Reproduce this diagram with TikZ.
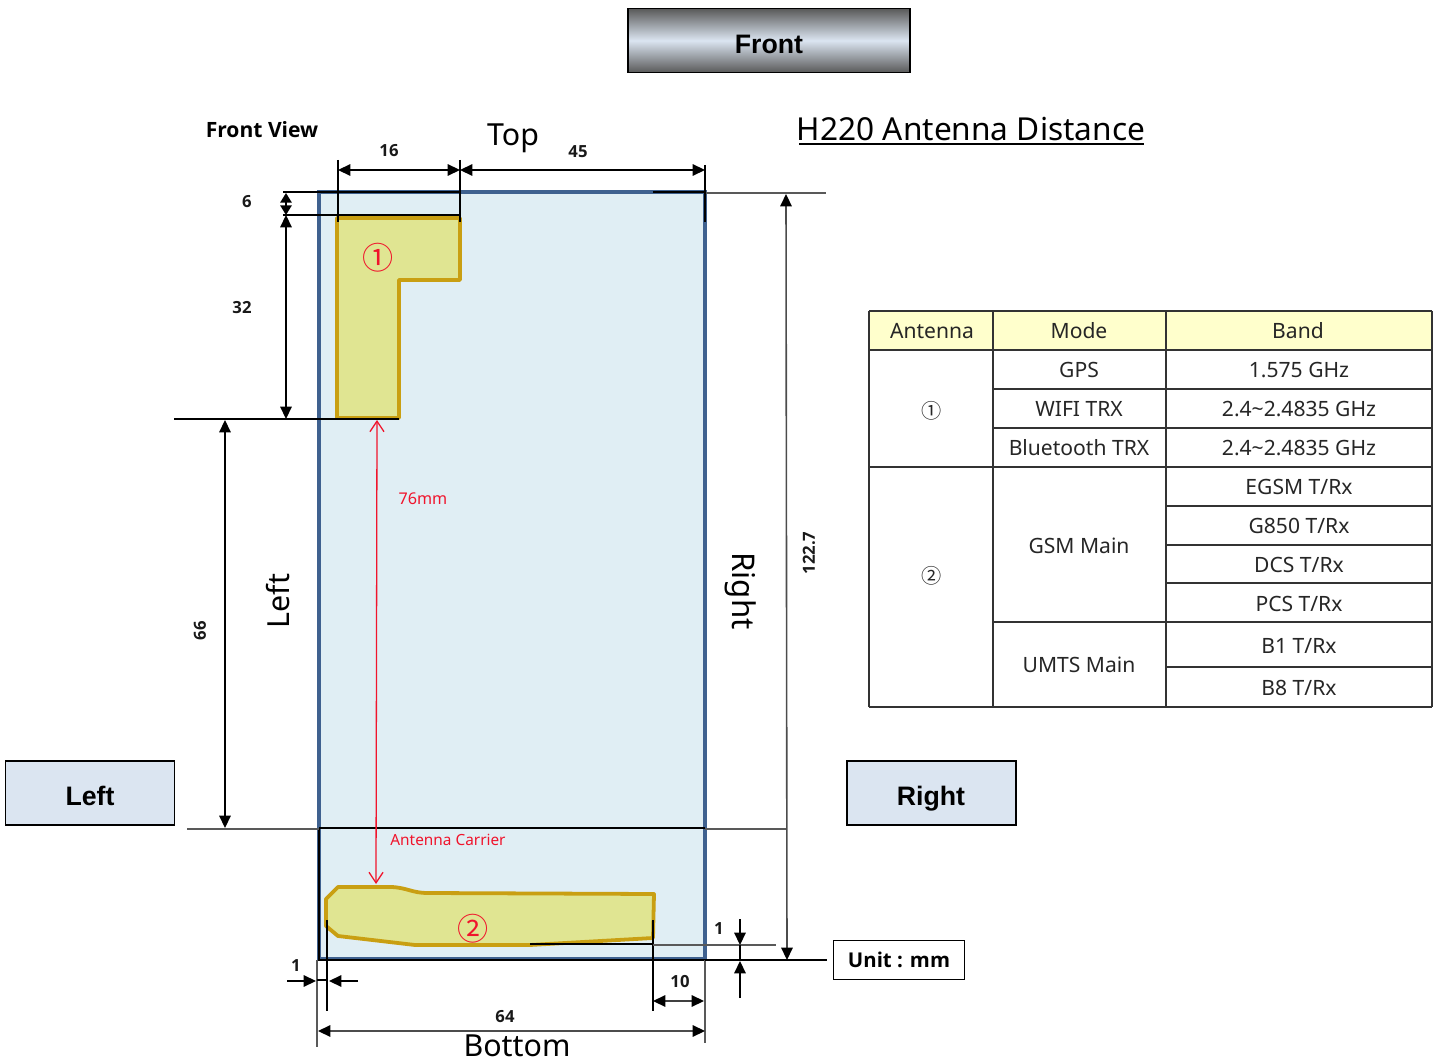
\documentclass[tikz,border=0pt]{standalone}
\usepackage{fontspec}
\setmainfont{Noto Sans}
\newfontfamily\arialf{Liberation Sans}
\newfontfamily\boldf{Open Sans}
\newfontfamily\circf{Noto Sans CJK SC}
\usetikzlibrary{arrows.meta}
\definecolor{bodyblue}{HTML}{E0EEF4}
\definecolor{edgeblue}{HTML}{3F618F}
\definecolor{antfill}{HTML}{E0E592}
\definecolor{antedge}{HTML}{C99F12}
\definecolor{headyellow}{HTML}{FFFFCC}
\definecolor{panel}{HTML}{DBE5F1}
\definecolor{redtxt}{HTML}{F0142C}
\tikzset{
  x=0.02cm, y=-0.02cm,
  px/.style={line width=#1*0.5669pt},
  dim/.style={draw=black, px=1.6, {Triangle[length=7pt,width=6.5pt]}-{Triangle[length=7pt,width=6.5pt]}},
  oneway/.style={draw=black, px=1.6, -{Triangle[length=7pt,width=6.5pt]}},
  ext/.style={draw=black, px=1.2},
  extg/.style={draw=black!65, px=1.6},
  redarrow/.style={draw=redtxt, px=1.3, {Straight Barb[length=6pt,width=8pt]}-{Straight Barb[length=6pt,width=8pt]}},
  ant/.style={draw=antedge, fill=antfill, px=3.8, line join=round},
  label/.style={inner sep=0pt, font=\boldf\fontsize{9.5pt}{11pt}\selectfont\bfseries, text=black!90},
  btn/.style={draw=black, px=2, fill=panel, inner sep=0pt, text height=14.4pt, text depth=0pt, font=\arialf\bfseries\fontsize{15.2pt}{18pt}\selectfont},
  big/.style={inner sep=0pt, font=\fontsize{17.3pt}{20pt}\selectfont},
  redlab/.style={inner sep=0pt, text=redtxt},
  cell/.style={inner sep=0pt, font=\fontsize{12pt}{14pt}\selectfont, text=black!85},
  grid/.style={draw=black!80, px=1.4},
}
\begin{document}
\begin{tikzpicture}
\useasboundingbox (0,0) rectangle (1441,1064);

% buttons
\node[btn, minimum width=282*0.02cm, minimum height=64*0.02cm, top color=black!65, bottom color=black!65, middle color=panel] (front) at (769,40.5) {Front};
\node[btn, minimum width=169*0.02cm, minimum height=64*0.02cm] (leftbtn) at (90,793) {Left};
\node[btn, minimum width=169*0.02cm, minimum height=64*0.02cm] (rightbtn) at (931,793) {Right};

% titles
\node[inner sep=0pt, font=\boldf\fontsize{12pt}{14pt}\selectfont\bfseries] (fv) at (262,130) {Front View};
\node[big] (top) at (513,138) {Top};
\node[big] (bottom) at (517,1046) {Bottom};
\node[big, rotate=90] (leftl) at (278,601) {Left};
\node[big, font=\fontsize{17.8pt}{20pt}\selectfont, rotate=-90] (rightl) at (741,591) {Right};
\node[inner sep=0pt, font=\fontsize{18pt}{21pt}\selectfont] (title) at (971,129) {H220 Antenna Distance};
\draw[black, px=1.8] (799,144) -- (1144,144);

% phone body
\draw[fill=bodyblue, draw=edgeblue, px=3.4] (319,192) rectangle (705,959);
\draw[black, px=1.8] (319,828) -- (319,960) -- (705,960);
\draw[black, px=1.4] (319,828) -- (705,828);
\draw[ext] (653,192) -- (705,192);

% antennas
\path[ant] (337,218) -- (460,218) -- (460,280) -- (399,280) -- (399,418) -- (337,418) -- cycle;
\path[ant] (326,899) -- (338,887) -- (392,887) .. controls (408,888) and (412,893) .. (428,893) -- (654,894) -- (653,938) -- (530,945) -- (415,945) -- (338,936) -- (326,926) -- cycle;
\node[inner sep=0pt, text=redtxt, font=\circf\fontsize{17.7pt}{20pt}\selectfont] (a1) at (378,258) {①};
\node[inner sep=0pt, text=redtxt, font=\circf\fontsize{17.7pt}{20pt}\selectfont] (a2) at (473,929) {②};

% extension lines
\draw[ext] (338,160) -- (338,222);
\draw[ext] (460,160) -- (460,222);
\draw[ext] (283,192) -- (460,192);
\draw[ext] (283,215) -- (460,215);
\draw[ext] (174,419) -- (399,419);
\draw[extg] (187,829) -- (319,829);
\draw[extg] (705,829) -- (787,829);
\draw[extg] (705,193) -- (826,193);
\draw[ext] (705,165) -- (705,222);
\draw[ext] (327,920) -- (327,1011);
\draw[ext] (653,920) -- (653,1011);
\draw[extg] (317,960) -- (317,1047);
\draw[extg] (705,960) -- (705,1043);
\draw[ext] (530,944) -- (653,944);
\draw[extg] (653,945) -- (776,945);
\draw[ext] (705,960) -- (827,960);
\draw[ext] (317,980) -- (327,980);

% dimensions
\coordinate (d16a) at (338,170); \coordinate (d16b) at (460,170); \coordinate (d45b) at (705,170);
\draw[dim] (d16a) -- (d16b);
\draw[dim] (d16b) -- (d45b);
\coordinate (d6a) at (286,193); \coordinate (d6b) at (286,215); \coordinate (d32b) at (286,419);
\draw[dim, {Triangle[length=5.5pt,width=6.5pt]}-{Triangle[length=5.5pt,width=6.5pt]}] (d6a) -- (d6b);
\draw[dim] (d6b) -- (d32b);
\coordinate (d66a) at (225,420); \coordinate (d66b) at (225,828);
\draw[dim] (d66a) -- (d66b);
\coordinate (d122a) at (786,194); \coordinate (d122b) at (787,960);
\draw[dim, draw=black!70, {Triangle[length=7pt,width=6.5pt,black]}-{Triangle[length=7pt,width=6.5pt,black]}] (d122a) -- (d122b);
\coordinate (d64a) at (318,1031); \coordinate (d64b) at (705,1031);
\draw[dim, draw=black!70, {Triangle[length=7pt,width=6.5pt,black]}-{Triangle[length=7pt,width=6.5pt,black]}] (d64a) -- (d64b);
\coordinate (d10a) at (653,1001); \coordinate (d10b) at (704,1001);
\draw[dim, draw=black!75, {Triangle[length=7pt,width=6.5pt,black]}-{Triangle[length=7pt,width=6.5pt,black]}] (d10a) -- (d10b);
\coordinate (r1a) at (740,919); \coordinate (r1b) at (740,945); \coordinate (r1c) at (740,998); \coordinate (r1d) at (740,961);
\draw[oneway] (r1a) -- (r1b);
\draw[oneway] (r1c) -- (r1d);
\draw[ext] (r1b) -- (r1d);
\coordinate (l1a) at (287,981); \coordinate (l1b) at (316,981); \coordinate (l1c) at (358,981); \coordinate (l1d) at (329,981);
\draw[oneway] (l1a) -- (l1b);
\draw[oneway] (l1c) -- (l1d);
\coordinate (ra) at (377,420); \coordinate (rb) at (376,884);
\draw[redarrow] (ra) -- (rb);

% dimension labels
\node[label] (t16) at (389,151) {16};
\node[label] (t45) at (578,152) {45};
\node[label] (t6) at (247,202) {6};
\node[label] (t32) at (242,308) {32};
\node[label, rotate=90] (t66) at (200,631) {66};
\node[label, rotate=90] (t1227) at (809,553) {122.7};
\node[label] (t1r) at (719,929) {1};
\node[label] (t1l) at (296,966) {1};
\node[label] (t10) at (680,982) {10};
\node[label] (t64) at (505,1017) {64};
\node[redlab, font=\fontsize{9.2pt}{11pt}\selectfont] (t76) at (423,499) {76mm};
\node[redlab, font=\fontsize{8.75pt}{11pt}\selectfont] (tac) at (448,840) {Antenna Carrier};

% unit box
\node[draw=black, px=1.6, fill=white, inner sep=0pt, minimum width=131*0.02cm, minimum height=39*0.02cm, font=\boldf\fontsize{11.6pt}{14pt}\selectfont\bfseries] (unit) at (899,960) {Unit : mm};

% table
\fill[headyellow] (869,311) rectangle (1432,350);
\draw[grid] (869,311) -- (1432,311);
\draw[grid] (869,350) -- (1432,350);
\draw[grid] (993,389) -- (1432,389);
\draw[grid] (993,428) -- (1432,428);
\draw[grid] (869,467) -- (1432,467);
\draw[grid] (1166,506) -- (1432,506);
\draw[grid] (1166,545) -- (1432,545);
\draw[grid] (1166,583) -- (1432,583);
\draw[grid] (993,622) -- (1432,622);
\draw[grid] (1166,667) -- (1432,667);
\draw[grid] (869,707) -- (1432,707);
\draw[grid] (869,311) -- (869,707);
\draw[grid] (993,311) -- (993,707);
\draw[grid] (1166,311) -- (1166,707);
\draw[grid] (1432,311) -- (1432,707);
\node[cell] (c1) at (932,331) {Antenna};
\node[cell] (c2) at (1079,331) {Mode};
\node[cell] (c3) at (1298,331) {Band};
\node[cell, font=\circf\fontsize{11.5pt}{14pt}\selectfont] (c4) at (932,411) {①};
\node[cell, font=\circf\fontsize{11.5pt}{14pt}\selectfont] (c5) at (932,576) {②};
\node[cell] (m1) at (1079,370) {GPS};
\node[cell] (m2) at (1079,409) {WIFI TRX};
\node[cell] (m3) at (1079,448) {Bluetooth TRX};
\node[cell] (m4) at (1079,546) {GSM Main};
\node[cell] (m5) at (1079,665) {UMTS Main};
\node[cell] (b1) at (1299,370) {1.575 GHz};
\node[cell] (b2) at (1299,409) {2.4\textasciitilde2.4835 GHz};
\node[cell] (b3) at (1299,448) {2.4\textasciitilde2.4835 GHz};
\node[cell] (b4) at (1299,487) {EGSM T/Rx};
\node[cell] (b5) at (1299,526) {G850 T/Rx};
\node[cell] (b6) at (1299,565) {DCS T/Rx};
\node[cell] (b7) at (1299,604) {PCS T/Rx};
\node[cell] (b8) at (1299,646) {B1 T/Rx};
\node[cell] (b9) at (1299,688) {B8 T/Rx};
\end{tikzpicture}
\end{document}
